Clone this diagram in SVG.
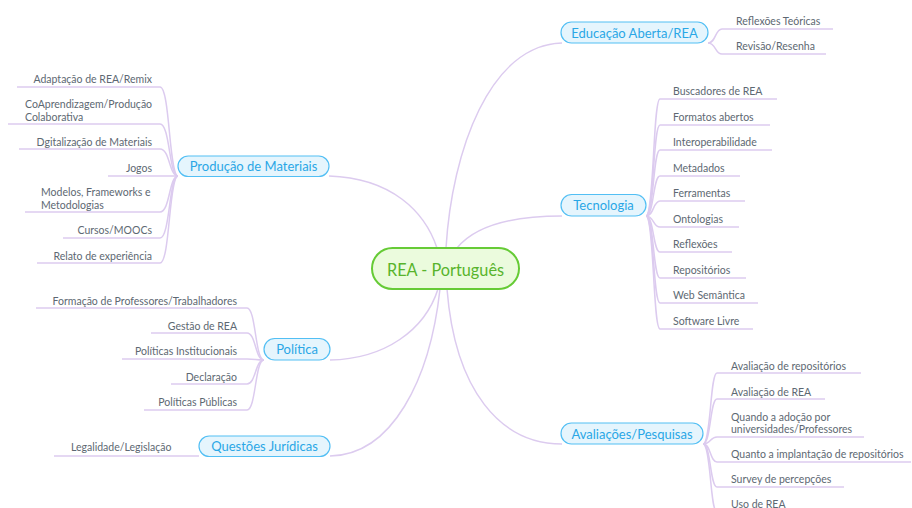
<svg xmlns="http://www.w3.org/2000/svg" width="912" height="508" viewBox="0 0 912 508">
<style>
.c{fill:none;stroke:#dccbef;stroke-width:1.5}
.u{stroke:#dccbef;stroke-width:1.5}
.m rect{fill:#e5f5fd;stroke:#52bff4;stroke-width:1.2}
.m text{fill:#2aa7e6;font-family:Lato,"Open Sans",sans-serif;font-size:13px;text-anchor:middle}
.l text{fill:#5d6872;font-family:Lato,"Open Sans",sans-serif;font-size:10.5px}
.r text{text-anchor:end}
</style>
<rect width="912" height="508" fill="#ffffff"/>
<g id="connectors">
<path class="c" d="M437 248 C425 212 392 178 329 176"/>
<path class="c" d="M446 248 C452 150 490 45 562 43"/>
<path class="c" d="M457 248 C475 226 510 216 562 216"/>
<path class="c" d="M438 289 C425 330 385 359 330 360"/>
<path class="c" d="M440 289 C430 380 392 455 330 456"/>
<path class="c" d="M447 289 C455 390 500 444 562 444"/>
<path class="c" d="M708 43 C716 43 715 29 722 29"/>
<path class="c" d="M708 43 C716 43 715 54 722 54"/>
<path class="c" d="M646 216 C654 216 653 99 660 99"/>
<path class="c" d="M646 216 C654 216 653 125 660 125"/>
<path class="c" d="M646 216 C654 216 653 150 660 150"/>
<path class="c" d="M646 216 C654 216 653 176 660 176"/>
<path class="c" d="M646 216 C654 216 653 201 660 201"/>
<path class="c" d="M646 216 C654 216 653 227 660 227"/>
<path class="c" d="M646 216 C654 216 653 252 660 252"/>
<path class="c" d="M646 216 C654 216 653 278 660 278"/>
<path class="c" d="M646 216 C654 216 653 303 660 303"/>
<path class="c" d="M646 216 C654 216 653 329 660 329"/>
<path class="c" d="M703 444 C711 444 710 373 717 373"/>
<path class="c" d="M703 444 C711 444 710 399 717 399"/>
<path class="c" d="M703 444 C711 444 710 437 717 437"/>
<path class="c" d="M703 444 C711 444 710 462 717 462"/>
<path class="c" d="M703 444 C711 444 710 487 717 487"/>
<path class="c" d="M703 444 C711 444 710 512 717 512"/>
<path class="c" d="M178 176 C169 176 170 87 160 87"/>
<path class="c" d="M178 176 C169 176 170 124 160 124"/>
<path class="c" d="M178 176 C169 176 170 149 160 149"/>
<path class="c" d="M178 176 L160 176"/>
<path class="c" d="M178 176 C169 176 170 212 160 212"/>
<path class="c" d="M178 176 C169 176 170 238 160 238"/>
<path class="c" d="M178 176 C169 176 170 263 160 263"/>
<path class="c" d="M264 360 C255 360 256 308 247 308"/>
<path class="c" d="M264 360 C255 360 256 333 247 333"/>
<path class="c" d="M264 360 C255 360 256 359 247 359"/>
<path class="c" d="M264 360 C255 360 256 384 247 384"/>
<path class="c" d="M264 360 C255 360 256 410 247 410"/>
<path class="c" d="M199 456 L190 456"/>
</g>
<g id="root">
<rect x="372" y="248" width="147" height="41" rx="20.5" fill="#ebfbdd" stroke="#66cb36" stroke-width="2"/>
<text x="445.5" y="275.5" fill="#58b42c" font-family="Lato,'Open Sans',sans-serif" font-size="16.3" text-anchor="middle">REA - Português</text>
</g>
<g id="educacao" class="m"><rect x="561" y="22" width="147" height="21" rx="10.5"/><text x="634.5" y="37.5">Educação Aberta/REA</text></g>
<g id="tecnologia" class="m"><rect x="561" y="194.5" width="85" height="21.5" rx="10.75"/><text x="603.5" y="210">Tecnologia</text></g>
<g id="avaliacoes" class="m"><rect x="561" y="423" width="142" height="21" rx="10.5"/><text x="632" y="438.5">Avaliações/Pesquisas</text></g>
<g id="producao" class="m"><rect x="178" y="156" width="151" height="20.5" rx="10.25"/><text x="253.5" y="171">Produção de Materiais</text></g>
<g id="politica" class="m"><rect x="264" y="338.5" width="66" height="21.5" rx="10.75"/><text x="297" y="354">Política</text></g>
<g id="questoes" class="m"><rect x="199" y="436" width="131" height="20.5" rx="10.25"/><text x="264.5" y="451">Questões Jurídicas</text></g>

<g id="reflexoes-teoricas" class="l"><line class="u" x1="722" y1="29" x2="833" y2="29"/><text x="736" y="25">Reflexões Teóricas</text></g>
<g id="revisao" class="l"><line class="u" x1="722" y1="54" x2="826" y2="54"/><text x="736" y="50">Revisão/Resenha</text></g>

<g id="buscadores" class="l"><line class="u" x1="660" y1="99" x2="777" y2="99"/><text x="673" y="95">Buscadores de REA</text></g>
<g id="formatos" class="l"><line class="u" x1="660" y1="125" x2="770" y2="125"/><text x="673" y="121">Formatos abertos</text></g>
<g id="interop" class="l"><line class="u" x1="660" y1="150" x2="772" y2="150"/><text x="673" y="146">Interoperabilidade</text></g>
<g id="metadados" class="l"><line class="u" x1="660" y1="176" x2="740" y2="176"/><text x="673" y="172">Metadados</text></g>
<g id="ferramentas" class="l"><line class="u" x1="660" y1="201" x2="745" y2="201"/><text x="673" y="197">Ferramentas</text></g>
<g id="ontologias" class="l"><line class="u" x1="660" y1="227" x2="739" y2="227"/><text x="673" y="223">Ontologias</text></g>
<g id="reflexoes" class="l"><line class="u" x1="660" y1="252" x2="732" y2="252"/><text x="673" y="248">Reflexões</text></g>
<g id="repositorios" class="l"><line class="u" x1="660" y1="278" x2="746" y2="278"/><text x="673" y="274">Repositórios</text></g>
<g id="web-semantica" class="l"><line class="u" x1="660" y1="303" x2="758" y2="303"/><text x="673" y="299">Web Semântica</text></g>
<g id="software-livre" class="l"><line class="u" x1="660" y1="329" x2="753" y2="329"/><text x="673" y="325">Software Livre</text></g>

<g id="aval-repos" class="l"><line class="u" x1="717" y1="373" x2="861" y2="373"/><text x="731" y="369.5">Avaliação de repositórios</text></g>
<g id="aval-rea" class="l"><line class="u" x1="717" y1="399" x2="825" y2="399"/><text x="731" y="395.5">Avaliação de REA</text></g>
<g id="quando-adocao" class="l"><line class="u" x1="717" y1="437" x2="864" y2="437"/><text x="731" y="420.5">Quando a adoção por</text><text x="731" y="433">universidades/Professores</text></g>
<g id="quanto-implantacao" class="l"><line class="u" x1="717" y1="462" x2="911" y2="462"/><text x="731" y="458">Quanto a implantação de repositórios</text></g>
<g id="survey" class="l"><line class="u" x1="717" y1="487" x2="844" y2="487"/><text x="731" y="483">Survey de percepções</text></g>
<g id="uso-rea" class="l"><line class="u" x1="717" y1="512" x2="800" y2="512"/><text x="731" y="507.5">Uso de REA</text></g>

<g id="adaptacao" class="l r"><line class="u" x1="17" y1="87" x2="160" y2="87"/><text x="152" y="83">Adaptação de REA/Remix</text></g>
<g id="coaprendizagem" class="l"><line class="u" x1="8" y1="124" x2="160" y2="124"/><text x="25" y="108">CoAprendizagem/Produção</text><text x="25" y="120.5">Colaborativa</text></g>
<g id="digitalizacao" class="l r"><line class="u" x1="19" y1="149" x2="160" y2="149"/><text x="152" y="145.5">Dgitalização de Materiais</text></g>
<g id="jogos" class="l r"><line class="u" x1="108" y1="176" x2="160" y2="176"/><text x="152" y="171.5">Jogos</text></g>
<g id="modelos" class="l"><line class="u" x1="25" y1="212" x2="160" y2="212"/><text x="41" y="196">Modelos, Frameworks e</text><text x="41" y="208.5">Metodologias</text></g>
<g id="cursos" class="l r"><line class="u" x1="63" y1="238" x2="160" y2="238"/><text x="152" y="234">Cursos/MOOCs</text></g>
<g id="relato" class="l r"><line class="u" x1="37" y1="263" x2="160" y2="263"/><text x="152" y="259.5">Relato de experiência</text></g>

<g id="formacao" class="l r"><line class="u" x1="36" y1="308" x2="247" y2="308"/><text x="237" y="304.5">Formação de Professores/Trabalhadores</text></g>
<g id="gestao" class="l r"><line class="u" x1="151" y1="333" x2="247" y2="333"/><text x="237" y="329.5">Gestão de REA</text></g>
<g id="politicas-inst" class="l r"><line class="u" x1="122" y1="359" x2="247" y2="359"/><text x="237" y="355">Políticas Institucionais</text></g>
<g id="declaracao" class="l r"><line class="u" x1="171" y1="384" x2="247" y2="384"/><text x="237" y="380.5">Declaração</text></g>
<g id="politicas-pub" class="l r"><line class="u" x1="144" y1="410" x2="247" y2="410"/><text x="237" y="406">Políticas Públicas</text></g>

<g id="legalidade" class="l"><line class="u" x1="54" y1="456" x2="190" y2="456"/><text x="71" y="450.5">Legalidade/Legislação</text></g>
</svg>
